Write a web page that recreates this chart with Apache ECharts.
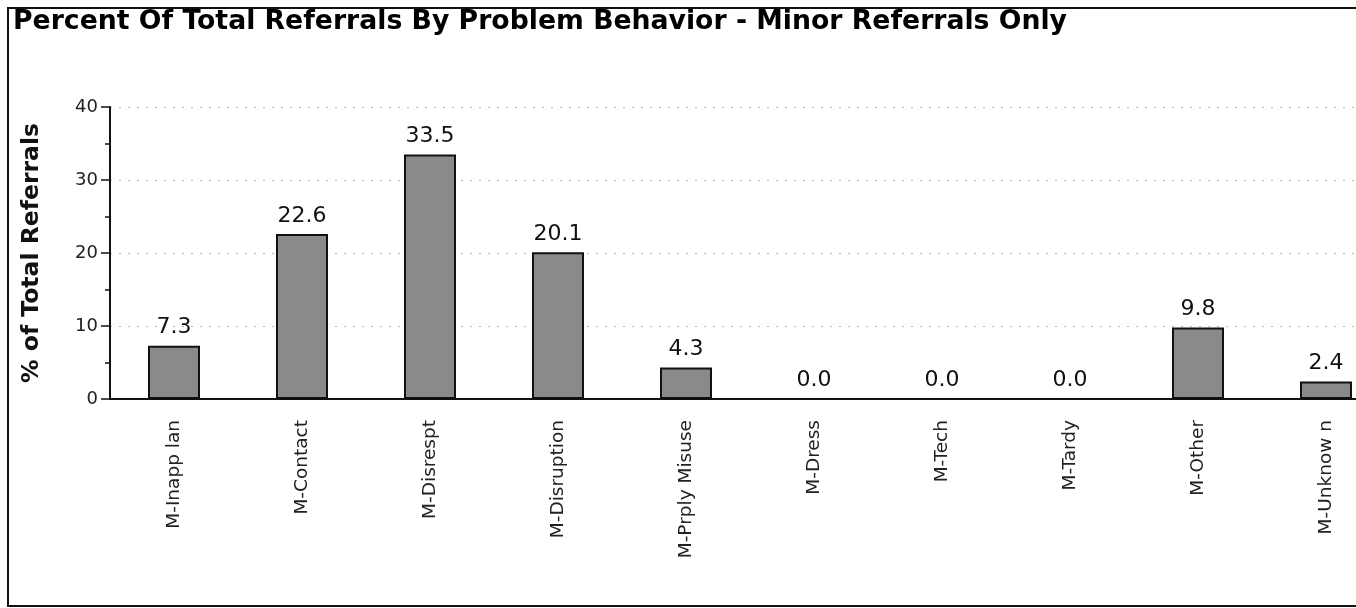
<!DOCTYPE html>
<html>
<head>
<meta charset="utf-8">
<title>Percent Of Total Referrals</title>
<script src="https://cdn.jsdelivr.net/npm/echarts@6/dist/echarts.min.js"></script>
<style>
  html, body { margin: 0; padding: 0; background: #fff; }
  #main { width: 1356px; height: 608px; }
</style>
</head>
<body>
<div id="main"></div>
<script>
// categories and values
var categories = ['M-Inapp lan', 'M-Contact', 'M-Disrespt', 'M-Disruption', 'M-Prply Misuse',
  'M-Dress', 'M-Tech', 'M-Tardy', 'M-Other', 'M-Unknow n'];
var percents = [7.3, 22.6, 33.5, 20.1, 4.3, 0.0, 0.0, 0.0, 9.8, 2.4];
var yTicks = [0, 10, 20, 30, 40];

var chart = echarts.init(document.getElementById('main'), null, { renderer: 'canvas' });

var option = {
  backgroundColor: '#fff',
  animation: false,
  title: {
    text: 'Percent Of Total Referrals By Problem Behavior - Minor Referrals Only',
    left: 13,
    top: 9,
    padding: 0,
    textStyle: {
      fontFamily: 'DejaVu Sans',
      fontWeight: 'bold',
      fontSize: 26.7,
      color: '#000'
    }
  },
  graphic: [{
    // frame round the chart, right side runs off the picture
    type: 'rect',
    z: 100,
    shape: { x: 8, y: 8, width: 1356, height: 598 },
    style: { fill: 'none', stroke: '#111', lineWidth: 2 }
  }],
  grid: {
    left: 110,
    top: 107,
    width: 1280,
    height: 292,
    containLabel: false,
    outerBoundsMode: 'none'
  },
  xAxis: {
    type: 'category',
    data: categories,
    axisLine: { lineStyle: { color: '#111', width: 2 } },
    axisTick: { length: 9, lineStyle: { color: '#111', width: 2 } },
    axisLabel: {
      rotate: 90,
      margin: 21,
      fontFamily: 'DejaVu Sans',
      fontSize: 18.5,
      color: '#222'
    }
  },
  yAxis: {
    type: 'value',
    min: yTicks[0],
    max: yTicks[yTicks.length - 1],
    interval: 10,
    name: '% of Total Referrals',
    nameLocation: 'middle',
    nameGap: 66,
    nameTextStyle: {
      fontFamily: 'DejaVu Sans',
      fontWeight: 'bold',
      fontSize: 23.5,
      color: '#111'
    },
    axisLine: { show: true, lineStyle: { color: '#111', width: 2 } },
    axisTick: { show: true, length: 9, lineStyle: { color: '#111', width: 1.5 } },
    minorTick: { show: true, splitNumber: 2, length: 5, lineStyle: { color: '#111', width: 1.5 } },
    axisLabel: {
      margin: 12,
      fontFamily: 'DejaVu Sans',
      fontSize: 18,
      color: '#222'
    },
    splitLine: { show: true, lineStyle: { color: '#b4b4b4', type: [2, 7], width: 1 } }
  },
  series: [{
    type: 'bar',
    data: percents,
    barWidth: 52,
    itemStyle: {
      color: '#8a8a8a',
      borderColor: '#111',
      borderWidth: 2
    },
    label: {
      show: true,
      position: 'top',
      distance: 7,
      fontFamily: 'DejaVu Sans',
      fontSize: 22,
      color: '#111',
      formatter: function (p) { return p.value.toFixed(1); }
    }
  }]
};

chart.setOption(option);
</script>
</body>
</html>
